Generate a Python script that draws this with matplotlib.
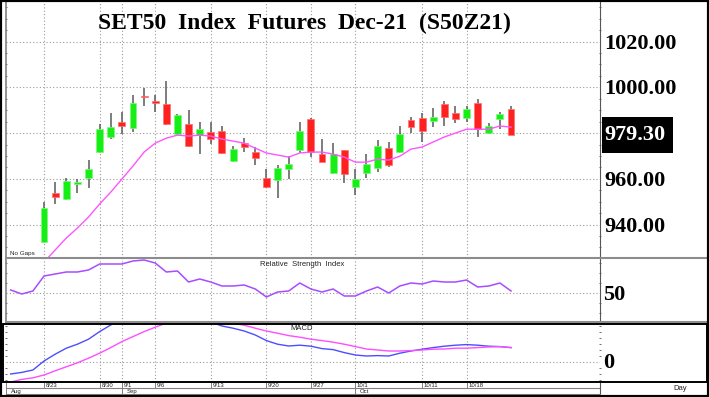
import numpy as np
import matplotlib
matplotlib.use('Agg')
import matplotlib.pyplot as plt
from matplotlib.patches import Rectangle
from matplotlib.ticker import MultipleLocator

W, H = 709, 397

# ============================================================
# DATOS (dia 0 = 8/23)
# ============================================================
opens = [932.3, 953.8, 951.1, 957.7, 960.3, 971.7, 978.3, 984.8, 982.2, 996.4,
         994.0, 992.7, 979.6, 983.9, 979.1, 980.4, 980.9, 967.8, 975.6, 971.7,
         960.3, 959.5, 964.3, 972.6, 986.1, 970.8, 962.5, 972.6, 956.4, 962.5,
         964.7, 973.4, 971.7, 985.7, 986.6, 985.2, 992.7, 988.7, 986.6, 993.1,
         980.0, 986.1, 990.5]
highs = [949.8, 958.6, 960.3, 959.9, 968.2, 983.9, 988.7, 989.2, 996.6, 999.7,
         996.6, 1002.7, 988.3, 990.1, 984.8, 984.8, 983.1, 974.3, 977.8, 973.9,
         964.3, 966.0, 969.9, 984.8, 986.6, 977.4, 975.6, 972.8, 964.3, 970.8,
         976.9, 976.1, 983.1, 987.0, 988.7, 990.9, 994.0, 991.8, 991.8, 994.9,
         984.4, 989.2, 991.8]
lows = [931.9, 949.0, 950.7, 953.8, 956.0, 971.5, 977.4, 979.6, 980.4, 991.8,
        989.2, 983.5, 979.1, 973.9, 970.8, 975.2, 970.8, 967.4, 971.7, 966.0,
        956.0, 951.6, 959.9, 971.3, 969.5, 967.3, 962.3, 958.1, 952.9, 960.3,
        963.0, 965.1, 971.5, 980.0, 976.1, 982.6, 983.1, 984.4, 984.8, 978.3,
        979.6, 981.7, 979.3]
closes = [947.2, 952.0, 959.0, 958.6, 964.3, 981.7, 982.6, 983.1, 993.1, 995.9,
          993.1, 983.9, 987.9, 974.3, 981.7, 977.4, 971.3, 973.0, 973.9, 969.1,
          956.4, 964.7, 966.4, 980.9, 971.7, 967.3, 970.8, 962.1, 959.9, 966.4,
          974.3, 966.0, 979.6, 982.6, 980.9, 987.0, 987.0, 986.1, 990.5, 981.7,
          983.1, 988.3, 979.3]
moving_avg = [923.6, 928.9, 934.1, 938.5, 943.3, 949.0, 954.2, 959.9, 965.6, 971.7,
              975.6, 977.8, 979.1, 978.7, 979.1, 978.7, 977.4, 976.5, 975.6, 973.4,
              971.3, 970.4, 969.5, 971.3, 971.7, 971.7, 970.8, 969.5, 967.3, 967.3,
              968.6, 968.2, 969.9, 973.0, 973.9, 976.1, 978.3, 980.0, 981.7, 981.7,
              981.7, 983.1, 982.6]

# indicadores empiezan 3 dias antes (8/18)
rsi = [53, 49, 52, 67, 69, 71, 71, 73, 79, 79, 79, 82, 83, 80, 71, 72, 61, 64, 61, 57,
       57, 58, 54, 46, 51, 52, 60, 54, 51, 54, 47, 47, 52, 56, 50, 57, 60, 59, 62, 61,
       61, 63, 56, 57, 60, 52]
macd = [-6.0, -5.2, -4.0, 0.5, 3.9, 6.9, 8.9, 11.4, 15.2, 18.5, 21.5, 24.0, 25.5, 26.0,
        25.5, 24.5, 23.0, 21.5, 20.0, 18.0, 16.9, 15.5, 13.5, 10.7, 8.9, 8.0, 8.4, 7.9,
        6.7, 6.2, 4.7, 3.5, 3.0, 3.2, 3.0, 4.4, 5.5, 6.4, 7.2, 7.9, 8.4, 8.7, 8.4, 7.9,
        7.7, 7.2]
signal = [-10.0, -8.7, -7.9, -6.5, -4.4, -2.4, -0.4, 1.9, 4.4, 7.2, 10.2, 12.7, 15.2,
          17.4, 19.5, 20.5, 21.3, 21.5, 21.0, 20.3, 19.3, 18.4, 16.9, 15.5, 14.4, 13.2,
          12.4, 11.4, 10.7, 9.9, 8.9, 7.7, 6.5, 6.0, 5.5, 5.5, 5.7, 6.0, 6.4, 6.5, 6.9,
          6.9, 7.2, 7.5, 7.7, 7.2]

date_labels = ['8/23', '8/30', '9/1', '9/6', '9/13', '9/20', '9/27', '10/1', '10/11', '10/18']
date_pos = [0, 5, 7, 10, 15, 20, 24, 28, 34, 38]
month_labels = ['Aug', 'Sep', 'Oct']
month_pos = [-3.4, 7, 28]
last_price = 979.30

days = np.arange(len(closes))
days_ind = np.arange(-3, len(closes))

# ============================================================
# FIGURA
# ============================================================
fig = plt.figure(figsize=(W / 100, H / 100), dpi=100)
fig.patch.set_facecolor('white')


def px_axes(x0, y0, x1, y1):
    return fig.add_axes([x0 / W, 1 - y1 / H, (x1 - x0) / W, (y1 - y0) / H])


def fx(x):
    return x / W


def fy(y):
    return 1 - y / H


XLIM = (-3.42, 50.0)
GRID = dict(color='#9a9a9a', linestyle=(0, (1, 2)), linewidth=0.8)
SERIF = dict(family='Liberation Serif', fontweight='bold', fontsize=16, color='black')
SMALL = dict(family='Liberation Sans', fontsize=5.5, color='#222222')

ax_p = px_axes(6, 2, 600, 258)
ax_r = px_axes(6, 258, 600, 322)
ax_m = px_axes(6, 324, 600, 382)
ax_d = px_axes(6, 382, 600, 394)

for ax in (ax_p, ax_r, ax_m):
    ax.set_xlim(*XLIM)
    ax.set_xticks(date_pos)
    ax.grid(True, **GRID)
    ax.tick_params(axis='x', length=0, labelbottom=False)
    ax.tick_params(axis='y', which='major', length=0, labelleft=False, labelright=False)
    ax.tick_params(axis='y', which='minor', length=2, direction='inout',
                   left=True, right=True, color='#555555', width=0.6)
    for s in ax.spines.values():
        s.set_color('#808080')
        s.set_linewidth(1.2)
    ax.spines['right'].set_color('#555555')
    ax.spines['right'].set_linewidth(0.8)

# ---- precio: velas + media movil ----
ax_p.set_ylim(925.4, 1037.3)
ax_p.set_yticks([940, 960, 980, 1000, 1020])
ax_p.yaxis.set_minor_locator(MultipleLocator(5))
ax_p.spines['top'].set_visible(False)

o = np.array(opens)
c = np.array(closes)
up = c >= o
ax_p.vlines(days, lows, highs, color='#5a5a5a', linewidth=1.1, zorder=2)
body = np.maximum(np.abs(c - o), 0.5)
ax_p.bar(days, body, bottom=np.minimum(o, c), width=0.62,
         color=np.where(up, '#16ee16', '#ff2020'),
         edgecolor=np.where(up, '#7dfa7d', '#ff7070'), linewidth=0.5, zorder=3)
ax_p.plot(days, moving_avg, color='#ff55ff', linewidth=1.0, zorder=4)

ax_p.text(0.502, 0.915, 'SET50  Index  Futures  Dec-21  (S50Z21)',
          transform=ax_p.transAxes, ha='center', va='center',
          family='Liberation Serif', fontweight='bold', fontsize=17)
for v in [1020, 1000, 960, 940]:
    ax_p.annotate(f'{v:.2f}', xy=(1, v), xycoords=('axes fraction', 'data'),
                  xytext=(4, -2), textcoords='offset pixels', ha='left', va='center',
                  annotation_clip=False, **SERIF)
fig.patches.append(Rectangle((fx(602), fy(153)), fx(673) - fx(602), fy(117) - fy(153),
                             transform=fig.transFigure, facecolor='black',
                             edgecolor='none', zorder=5))
fig.text(fx(604), fy(135), f'{last_price:.2f}', ha='left', va='center',
         zorder=6, **{**SERIF, 'color': 'white'})
fig.text(fx(10), fy(254), 'No Gaps', ha='left', va='center', **{**SMALL, 'fontsize': 4.5})

# ---- RSI ----
ax_r.set_ylim(21, 85)
ax_r.set_yticks([50])
ax_r.yaxis.set_minor_locator(MultipleLocator(10))
ax_r.plot(days_ind, rsi, color='#a64dff', linewidth=1.1)
fig.text(fx(302), fy(264), 'Relative  Strength  Index', ha='center', va='center', **SMALL)
fig.text(fx(603), fy(295), '50', ha='left', va='center', **SERIF)

# ---- MACD ----
ax_m.set_ylim(-10, 19)
ax_m.set_yticks([0])
ax_m.yaxis.set_minor_locator(MultipleLocator(3))
ax_m.plot(days_ind, macd, color='#4d4dff', linewidth=1.0)
ax_m.plot(days_ind, signal, color='#ff4dff', linewidth=1.0)
for s in ax_m.spines.values():
    s.set_visible(False)
fig.patches.append(Rectangle((fx(3), fy(382)), fx(707) - fx(3), fy(323.5) - fy(382),
                             transform=fig.transFigure, facecolor='none',
                             edgecolor='black', linewidth=1.4, zorder=5))
fig.text(fx(302), fy(328), 'MACD', ha='center', va='center', **SMALL)
fig.text(fx(603), fy(363), '0', ha='left', va='center', **SERIF)

# ---- eje de fechas ----
ax_d.set_xlim(*XLIM)
ax_d.set_ylim(0, 1)
ax_d.axis('off')
ax_d.axhline(0.5, color='#808080', linewidth=0.8)
for p, lab in zip(date_pos, date_labels):
    ax_d.plot([p, p], [0.5, 1], color='#808080', linewidth=0.7)
    ax_d.text(p + 0.15, 0.72, lab, ha='left', va='center', **{**SMALL, 'fontsize': 4.3})
for p, lab in zip(month_pos, month_labels):
    ax_d.plot([p, p], [0, 1], color='#808080', linewidth=0.7)
    ax_d.text(p + 0.4, 0.22, lab, ha='left', va='center', **{**SMALL, 'fontsize': 4.3})
fig.lines.append(plt.Line2D([fx(600), fx(600)], [fy(394), fy(382)],
                            transform=fig.transFigure, color='#555555', linewidth=0.8))
fig.lines.append(plt.Line2D([fx(6), fx(600)], [fy(394), fy(394)],
                            transform=fig.transFigure, color='#808080', linewidth=0.8))
fig.text(fx(680), fy(388), 'Day', ha='center', va='center', **SMALL)

# separadores grises a todo el ancho
for yy in (258, 322):
    fig.lines.append(plt.Line2D([fx(6), fx(709)], [fy(yy), fy(yy)],
                                transform=fig.transFigure, color='#8c8c8c', linewidth=1.5))

# marco exterior
fig.patches.append(Rectangle((0, 0), 1, 1, transform=fig.transFigure, facecolor='none',
                             edgecolor='black', linewidth=3.0, zorder=10))

fig.savefig('out.png', dpi=100)
plt.close(fig)
